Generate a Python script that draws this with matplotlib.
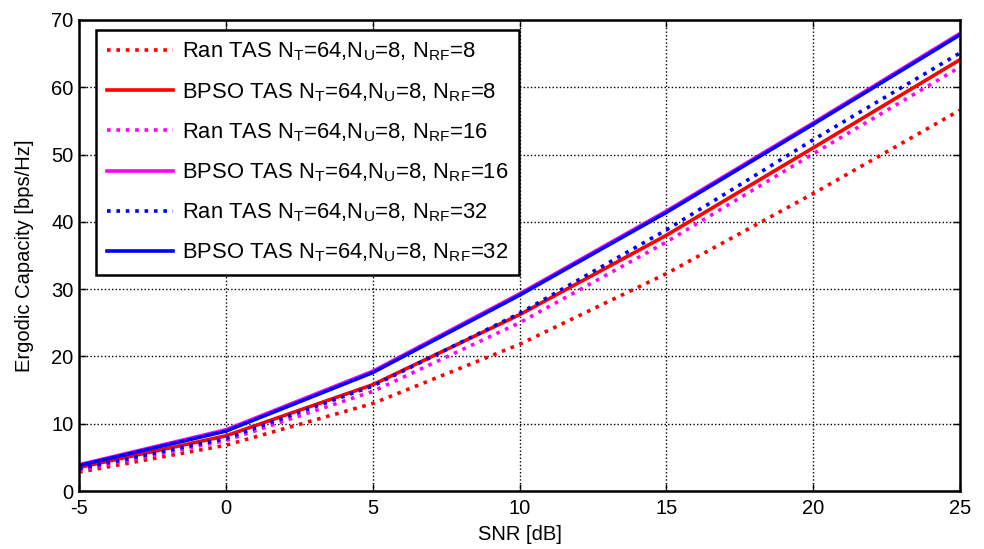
import numpy as np
import matplotlib
matplotlib.use("Agg")
import matplotlib.pyplot as plt

plt.rcParams['font.family'] = ['Liberation Sans', 'DejaVu Sans']
plt.rcParams['mathtext.default'] = 'regular'
plt.rcParams['axes.unicode_minus'] = False

snr = [-5, 0, 5, 10, 15, 20, 25]

ran_8 = [2.8, 6.8, 13.0, 21.8, 32.3, 44.2, 56.6]
bpso_8 = [3.5, 8.2, 15.8, 26.2, 38.0, 51.0, 64.1]
ran_16 = [3.1, 7.5, 14.8, 25.0, 37.0, 50.1, 63.0]
bpso_16 = [3.9, 9.1, 17.8, 29.3, 41.6, 54.7, 68.0]
ran_32 = [3.3, 7.8, 15.6, 26.4, 38.8, 52.2, 65.1]
bpso_32 = [3.8, 8.9, 17.6, 29.1, 41.4, 54.5, 67.8]

labels = [
    'Ran TAS N$_T$=64,N$_U$=8, N$_{RF}$=8',
    'BPSO TAS N$_T$=64,N$_U$=8, N$_{RF}$=8',
    'Ran TAS N$_T$=64,N$_U$=8, N$_{RF}$=16',
    'BPSO TAS N$_T$=64,N$_U$=8, N$_{RF}$=16',
    'Ran TAS N$_T$=64,N$_U$=8, N$_{RF}$=32',
    'BPSO TAS N$_T$=64,N$_U$=8, N$_{RF}$=32',
]
series = [ran_8, bpso_8, ran_16, bpso_16, ran_32, bpso_32]
colors = ['#ff0000', '#ff0000', '#ff00ff', '#ff00ff', '#0000ff', '#0000ff']
dotted = (0, (1, 1.6))

fig = plt.figure(figsize=(9.84, 5.49), dpi=100)
ax = fig.add_axes([0.0803, 0.1056, 0.8953, 0.858])

for i, (y, c, lab) in enumerate(zip(series, colors, labels)):
    ls = dotted if i % 2 == 0 else '-'
    ax.plot(snr, y, color=c, linestyle=ls, linewidth=2.6, label=lab)

ax.set_xlim(-5, 25)
ax.set_ylim(0, 70)
ax.set_xticks(range(-5, 26, 5))
ax.set_yticks(range(0, 71, 10))
ax.grid(True, color='black', linestyle=(0, (1, 1.6)), linewidth=1.0)
ax.tick_params(direction='in', labelsize=14.5, length=5, width=1,
               top=True, right=True, pad=4)
ax.tick_params(axis='x', pad=6)
for sp in ax.spines.values():
    sp.set_linewidth(1.8)

ax.set_xlabel('SNR [dB]', fontsize=14.5, labelpad=5)
ax.set_ylabel('Ergodic Capacity [bps/Hz]', fontsize=14.5, labelpad=12)

leg = ax.legend(loc='upper left', bbox_to_anchor=(0.0193, 0.979), fontsize=15.8,
                fancybox=False, framealpha=1, edgecolor='black',
                handlelength=3.0, handletextpad=0.4, labelspacing=0.8,
                borderpad=0.5, borderaxespad=0)
leg.get_frame().set_linewidth(1.8)

fig.savefig('out.png', dpi=100)
